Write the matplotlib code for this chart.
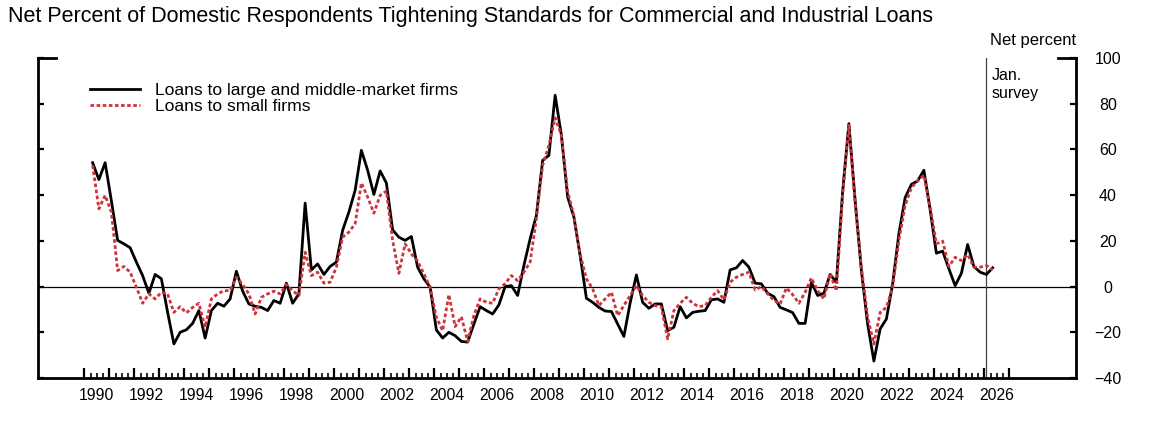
import matplotlib
matplotlib.use("Agg")
import matplotlib.pyplot as plt
import matplotlib.transforms as mtransforms
from matplotlib.lines import Line2D
import numpy as np
import pandas as pd

plt.rcParams['font.family'] = ['Liberation Sans', 'DejaVu Sans']

# survey quarters, 1990:Q2 - 2026:Q2
quarters = pd.period_range('1990Q2', '2026Q2', freq='Q')

# net percent tightening, large and middle-market firms
large_firms = [
    54.2, 46.8, 54.2, 37.5, 20.2, 18.7, 17.0, 10.7, 4.8, -2.9,
    5.3, 3.4, -11.3, -25.1, -20.0, -18.9, -16.1, -10.5, -22.5, -10.5,
    -7.3, -8.6, -5.4, 6.7, -2.0, -7.6, -8.6, -9.1, -10.5, -6.1,
    -7.3, 1.5, -7.3, -3.2, 36.5, 7.3, 9.9, 5.3, 8.8, 10.7,
    24.6, 32.6, 42.1, 59.6, 50.9, 40.3, 50.6, 45.3, 24.8, 21.6,
    20.2, 21.9, 8.5, 3.4, -0.3, -19.0, -22.5, -20.0, -21.5, -24.0,
    -24.3, -16.4, -8.8, -10.5, -12.0, -8.0, 0.0, 0.4, -3.9, 9.2,
    20.9, 31.1, 55.2, 57.4, 83.7, 66.2, 39.2, 30.4, 13.6, -5.1,
    -6.9, -9.1, -10.7, -10.9, -16.4, -21.8, -7.2, 5.1, -6.9, -9.5,
    -7.6, -7.6, -19.3, -17.8, -8.8, -13.7, -11.3, -10.8, -10.5, -5.8,
    -5.4, -6.9, 7.3, 8.2, 11.4, 8.5, 1.5, 1.2, -2.9, -4.4,
    -9.1, -10.2, -11.4, -16.1, -16.1, 1.9, -3.9, -2.9, 5.3, 1.9,
    41.6, 71.3, 37.7, 7.0, -16.4, -32.6, -18.5, -14.2, 1.2, 23.1,
    38.9, 44.7, 46.2, 50.9, 33.6, 14.6, 15.5, 7.8, 0.4, 5.8,
    18.4, 8.8, 6.3, 5.3, 8.2,
]

# net percent tightening, small firms
small_firms = [
    53.0, 34.0, 39.9, 32.6, 7.0, 8.8, 6.3, -0.3, -7.3, -3.2,
    -5.4, -2.5, -3.2, -11.3, -8.8, -11.5, -9.1, -7.3, -17.8, -5.4,
    -3.2, -1.8, -1.8, 4.1, 0.9, -3.2, -12.0, -4.7, -3.2, -2.0,
    -3.2, 0.9, -1.8, -3.9, 15.0, 4.8, 6.3, 1.5, 1.9, 8.5,
    21.6, 23.8, 27.5, 45.3, 39.2, 32.1, 39.9, 41.8, 20.2, 5.8,
    18.7, 14.3, 11.1, 5.6, -0.3, -13.4, -19.3, -3.5, -17.5, -13.2,
    -24.0, -12.7, -5.4, -6.9, -7.3, -1.0, 1.3, 4.8, 2.6, 6.3,
    10.7, 29.7, 53.0, 61.8, 73.8, 66.2, 41.6, 31.1, 14.3, 3.4,
    -1.0, -8.3, -5.4, -2.5, -12.7, -8.3, -3.9, 0.4, -3.9, -6.9,
    -8.3, -9.0, -22.9, -10.5, -7.3, -4.7, -7.3, -8.8, -8.3, -4.7,
    -1.8, -5.8, 1.9, 4.1, 5.3, 6.3, -1.5, 0.0, -3.2, -6.1,
    -7.6, -0.6, -3.5, -7.3, -2.5, 3.8, -1.8, -5.4, 5.6, -1.8,
    40.0, 70.6, 36.3, 8.5, -13.4, -25.1, -11.3, -9.1, -0.3, 20.2,
    35.5, 43.3, 46.2, 48.7, 34.8, 18.7, 19.9, 8.8, 12.8, 11.4,
    14.0, 8.5, 8.5, 9.2, 7.3,
]

year_ticks = list(range(1990, 2028))
year_labels = list(range(1990, 2027, 2))
y_ticks = [-40, -20, 0, 20, 40, 60, 80, 100]

# plot each survey at the middle month of its quarter
x = np.array([q.year + (q.quarter - 1) / 4 + 1 / 12 for q in quarters])

fig = plt.figure(figsize=(11.6, 4.21), dpi=100)
ax = fig.add_axes([0.03276, 0.10214, 0.89483, 0.76009])

ax.axhline(0, color='black', linewidth=0.9, zorder=1)
ax.axvline(2026.07, color='#444444', linewidth=0.9, zorder=1)

ax.plot(x, large_firms, color='black', linewidth=2.0, zorder=3,
        label='Loans to large and middle-market firms')
ax.plot(x, small_firms, color='#cf333b', linewidth=2.0,
        linestyle=(0, (1.3, 0.9)), zorder=4, label='Loans to small firms')

ax.set_xlim(1988.148, 2029.668)
ax.set_ylim(-40, 100)

# spines
ax.spines['top'].set_visible(False)
for side in ['left', 'right', 'bottom']:
    ax.spines[side].set_linewidth(2.0)

# x ticks: years and quarters, pointing up
ax.set_xticks(year_ticks)
ax.set_xticks(np.arange(1990, 2027, 0.25), minor=True)
ax.tick_params(axis='x', which='major', direction='in', length=7, width=1.6,
               labelbottom=False)
ax.tick_params(axis='x', which='minor', direction='in', length=3.5, width=1.2)
trans = mtransforms.blended_transform_factory(ax.transData, ax.transAxes)
for yr in year_labels:
    ax.text(yr + 0.5, -0.03, str(yr), transform=trans, ha='center', va='top',
            fontsize=11.3)

# y ticks on both sides, labels on the right
ax.set_yticks(y_ticks)
ax.tick_params(axis='y', which='major', direction='in', length=4.5, width=1.6,
               left=True, right=True, labelleft=False, labelright=True,
               labelsize=11.5, pad=23)
for lab in ax.get_yticklabels():
    lab.set_horizontalalignment('center')

# longer caps at the top of both vertical axes
cap = 18 / 1038
ax.add_line(Line2D([0, cap], [1, 1], transform=ax.transAxes, color='black',
                   linewidth=2.0, clip_on=False))
ax.add_line(Line2D([1 - cap, 1], [1, 1], transform=ax.transAxes, color='black',
                   linewidth=2.0, clip_on=False))

ax.text(1.0, 1.03, 'Net percent', transform=ax.transAxes, ha='right',
        va='bottom', fontsize=12)
ax.text(2026.3, 95.5, 'Jan.\nsurvey', ha='left', va='top', fontsize=11.5,
        linespacing=1.2)

fig.text(0.0069, 0.985, 'Net Percent of Domestic Respondents Tightening Standards '
         'for Commercial and Industrial Loans', ha='left', va='top', fontsize=15.5)

ax.legend(loc='upper left', bbox_to_anchor=(0.038, 0.96), frameon=False,
          fontsize=12.6, handlelength=2.85, handletextpad=0.9, labelspacing=0.03,
          borderpad=0.2)

fig.savefig('out.png', dpi=100)
